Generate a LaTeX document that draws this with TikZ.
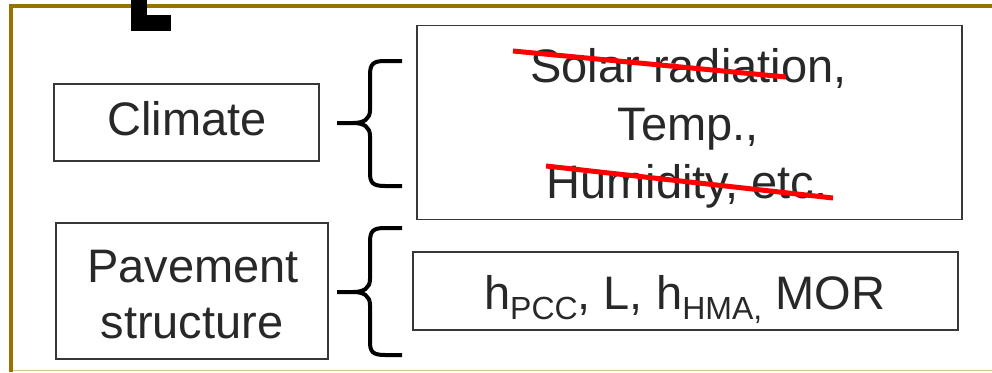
\documentclass[tikz,border=0pt]{standalone}
\usepackage{fontspec}
\setmainfont{Liberation Sans}
\definecolor{gold}{RGB}{153,115,0}
\definecolor{khaki}{RGB}{205,195,150}
\definecolor{txt}{RGB}{40,40,40}
\definecolor{boxline}{RGB}{55,55,55}
\definecolor{strike}{RGB}{255,0,0}
\begin{document}
\begin{tikzpicture}[x=1pt,y=-1pt,
  box/.style={draw=boxline,line width=1.8pt,inner sep=0pt,fill=none},
  lbl/.style={anchor=base,inner sep=0pt,text=txt,font=\fontsize{47}{56}\selectfont},
  bracepath/.style={draw=black,line width=4pt,line join=round},
  strikeline/.style={draw=strike,line width=5pt}]
\useasboundingbox (0,0) rectangle (992,372);
% frame
\draw[khaki,line width=1.5pt] (11,370.5) -- (992,370.5);
\draw[gold,line width=4.5pt] (11,372) -- (11,6) -- (992,6);
\fill[black] (131,0) rectangle (147,15);
\fill[black] (131,15) rectangle (171,31);
% boxes
\node[box,minimum width=265pt,minimum height=77pt] (climate) at (186.5,122.5) {};
\node[box,minimum width=272pt,minimum height=136pt] (pave) at (192,291) {};
\node[box,minimum width=545pt,minimum height=194pt] (climvars) at (689.5,122.5) {};
\node[box,minimum width=545pt,minimum height=78pt] (pavevars) at (685.5,291) {};
% texts
\node[lbl] (tclim) at (187,135) {Climate};
\node[lbl] (tpave1) at (193,282) {Pavement};
\node[lbl] (tpave2) at (192,338) {structure};
\node[lbl] (tv1) at (688.5,82) {Solar radiation,};
\node[lbl] (tv2) at (688,140) {Temp.,};
\node[lbl] (tv3) at (687,198) {Humidity, etc.};
\node[lbl] (tv4) at (684.5,309) {h\raisebox{-10pt}{\fontsize{32}{32}\selectfont PCC}, L, h\raisebox{-10pt}{\fontsize{32}{32}\selectfont HMA,} MOR};
% strike-through lines
\draw[strikeline] (513,51) -- (786,77);
\draw[strikeline] (546,166) -- (833,198);
% braces
\coordinate (b1tip) at (337,123);
\coordinate (b2tip) at (337,292);
\draw[bracepath] (402,61) -- (385,61) .. controls (373,61) and (370,64) .. (370,75) -- (370,110)
  .. controls (370,119) and (364,123) .. (353,123) -- (b1tip);
\draw[bracepath] (353,123) .. controls (364,123) and (370,127) .. (370,136) -- (370,173)
  .. controls (370,183) and (373,186) .. (385,186) -- (402,186);
\begin{scope}[shift={(0,169)}]
\draw[bracepath] (402,59) -- (385,59) .. controls (373,59) and (370,62) .. (370,73) -- (370,110)
  .. controls (370,119) and (364,123) .. (353,123) -- (337,123);
\draw[bracepath] (353,123) .. controls (364,123) and (370,127) .. (370,136) -- (370,173)
  .. controls (370,183) and (373,186) .. (385,186) -- (402,186);
\end{scope}
\end{tikzpicture}
\end{document}
